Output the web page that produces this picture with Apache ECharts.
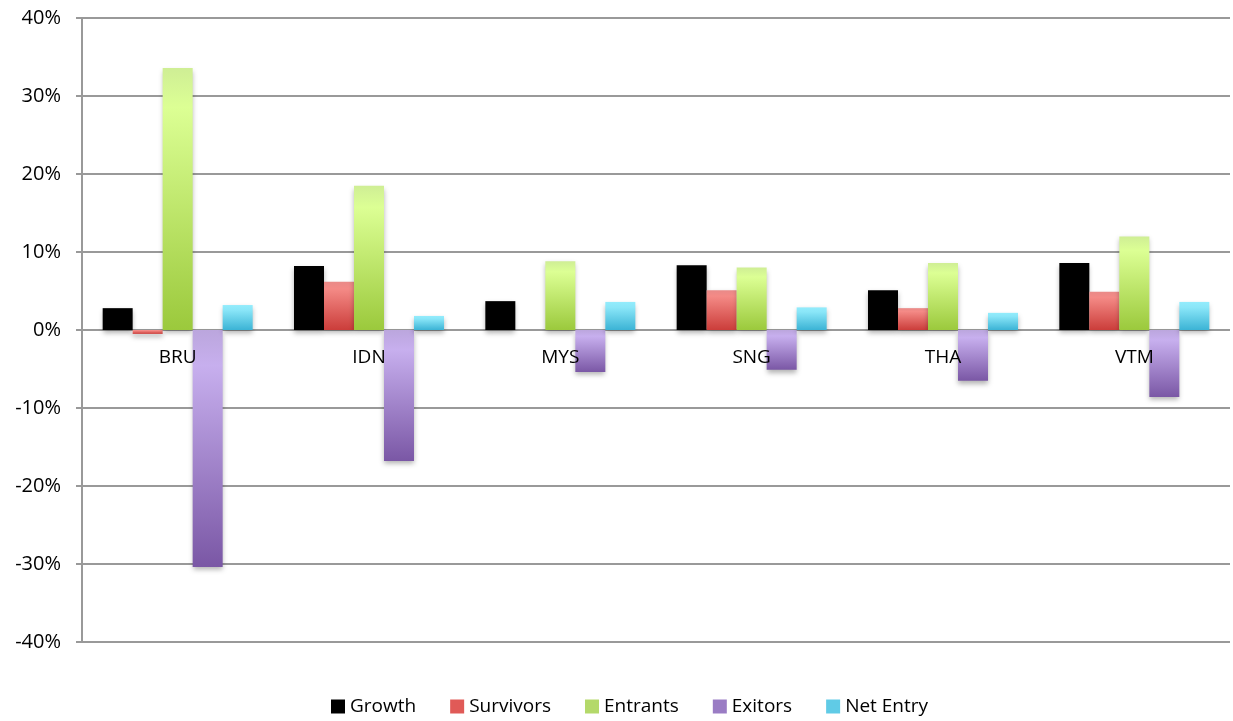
<!DOCTYPE html>
<html><head><meta charset="utf-8">
<script src="https://cdn.jsdelivr.net/npm/echarts@6/dist/echarts.min.js"></script>
<style>html,body{margin:0;padding:0;background:#fff}#c{width:1233px;height:721px}</style>
</head><body><div id="c"></div>
<script>
const categories = ['BRU','IDN','MYS','SNG','THA','VTM'];
const growth    = [2.8, 8.2, 3.7, 8.3, 5.1, 8.6];
const survivors = [-0.5, 6.2, 0.0, 5.1, 2.8, 4.9];
const entrants  = [33.6, 18.5, 8.8, 8.0, 8.6, 12.0];
const exitors   = [-30.4, -16.8, -5.4, -5.1, -6.5, -8.6];
const netEntry  = [3.2, 1.8, 3.6, 2.9, 2.2, 3.6];
const yTicks = [-40, -30, -20, -10, 0, 10, 20, 30, 40];
const yMin = -40, yMax = 40;

function grad(stops){
  return new echarts.graphic.LinearGradient(0,0,0,1,stops.map(s=>({offset:s[0],color:s[1]})));
}
const fills = {
  Growth: '#000000',
  Survivors: grad([[0,'#e98a88'],[0.15,'#f48a86'],[1,'#cb3d3a']]),
  Entrants: grad([[0,'#cfee95'],[0.15,'#dcff94'],[1,'#9bc93c']]),
  Exitors: grad([[0,'#bba6dd'],[0.15,'#c7afee'],[1,'#7a57a5']]),
  'Net Entry': grad([[0,'#93ecfc'],[0.2,'#8ae6f8'],[1,'#3bb3d5']])
};
const legendColors = {Growth:'#000',Survivors:'#e05a57',Entrants:'#b4d96a',Exitors:'#9a7cc4','Net Entry':'#60cbe6'};
const seriesData = [['Growth',growth],['Survivors',survivors],['Entrants',entrants],['Exitors',exitors],['Net Entry',netEntry]];

const W = 1233, H = 721;
const gridTop = 18, gridBottom = 79;
const gridH = H - gridTop - gridBottom;
const zeroOffset = -gridH * (0 - yMin) / (yMax - yMin);

const chart = echarts.init(document.getElementById('c'));
chart.setOption({
  animation:false,
  textStyle:{fontFamily:'Open Sans'},
  grid:{left:82,right:3,top:gridTop,bottom:gridBottom},
  legend:{
    bottom:0,left:326,itemWidth:14,itemHeight:14,itemGap:34,icon:'rect',
    textStyle:{fontSize:19,color:'#000',fontFamily:'Open Sans'},
    data:seriesData.map(s=>({name:s[0],itemStyle:{color:legendColors[s[0]]}}))
  },
  xAxis:{
    type:'category',data:categories,position:'bottom',offset:zeroOffset,z:10,
    axisLine:{show:false,onZero:false},
    axisTick:{show:false},
    axisLabel:{fontSize:19,color:'#000',margin:18,fontFamily:'Open Sans'}
  },
  yAxis:{
    type:'value',min:yMin,max:yMax,interval:10,
    axisLine:{show:true,lineStyle:{color:'#999',width:2}},
    axisTick:{show:true,inside:false,length:6,lineStyle:{color:'#999',width:2}},
    splitLine:{lineStyle:{color:'#999',width:2}},
    axisLabel:{fontSize:20,color:'#000',margin:21,fontFamily:'Open Sans',
      formatter:v=>yTicks.includes(v)?v+'%':''}
  },
  series:seriesData.map(s=>({
    name:s[0],type:'bar',data:s[1],barWidth:30,barGap:'0%',
    itemStyle:{color:fills[s[0]],shadowBlur:5,shadowOffsetY:3,shadowColor:'rgba(0,0,0,0.3)'}
  }))
});
</script></body></html>
